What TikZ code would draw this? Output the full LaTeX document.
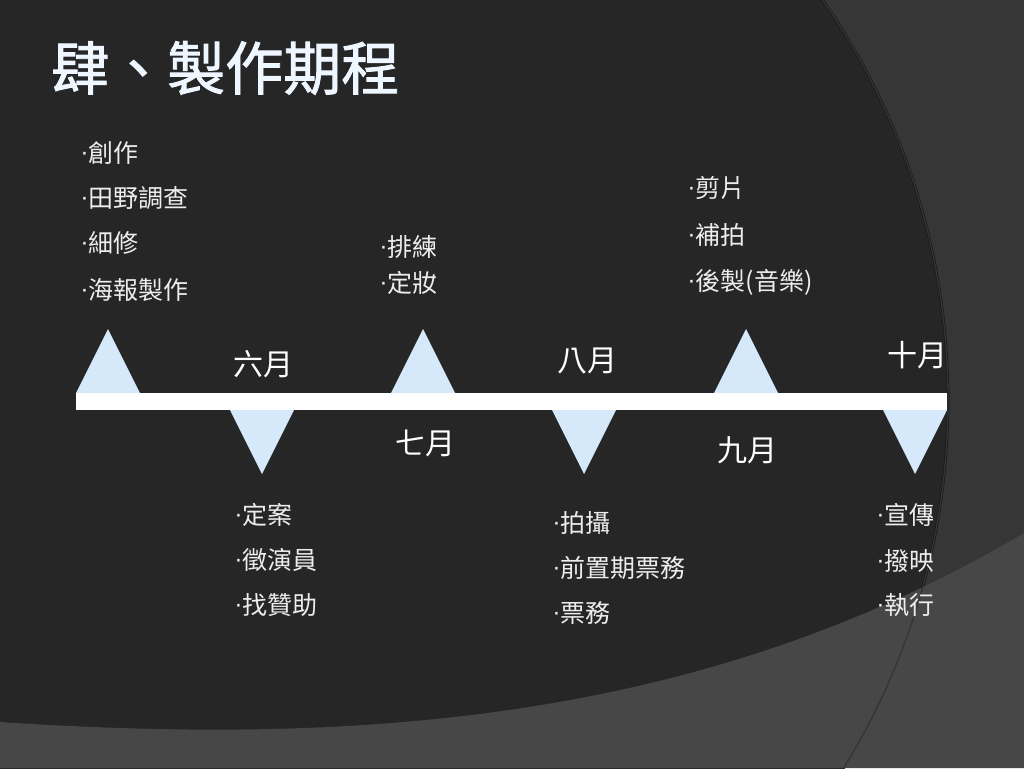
\documentclass[tikz,border=0pt]{standalone}
\usepackage{fontspec}
\setmainfont{Noto Sans CJK TC}
\newfontfamily\latinfont{Liberation Sans}
\newfontfamily\titlefont[FakeBold=1.6]{Noto Sans CJK TC}
\newcommand{\dotmark}{\raisebox{0.08em}{\latinfont ·}}
\usetikzlibrary{positioning}
\definecolor{slidebg}{HTML}{262626}
\definecolor{slidegrey}{HTML}{363636}
\definecolor{bandgrey}{HTML}{474747}
\definecolor{triblue}{HTML}{D6E9FB}
\definecolor{titlefg}{HTML}{EEF6FF}
\tikzset{
  tri/.style={fill=triblue},
  item/.style={anchor=west, inner sep=0pt, text=white!93!black,
    font=\fontsize{18.75}{22}\selectfont},
  month/.style={inner sep=0pt, text=white, font=\fontsize{22.5}{26}\selectfont},
  title/.style={anchor=west, inner sep=0pt, font=\titlefont\fontsize{43.5}{48}\selectfont},
}
\begin{document}
\begin{tikzpicture}[x=0.75pt,y=-0.75pt]
\useasboundingbox (0,0) rectangle (1024,768);
\begin{scope}
\clip (0,0) rectangle (1024,768);
\fill[slidegrey] (0,0) rectangle (1024,768);
\fill[slidebg] (248,400) circle [x radius=700, y radius=700];
\draw[black!40!slidebg,line width=2] (248,400) circle [x radius=700, y radius=700];
\fill[bandgrey] (0,722) .. controls (350,745) and (700,725) .. (1024,533)
  -- (1024,768) -- (0,768) -- cycle;
\draw[black!25!bandgrey,line width=1] (248,400) circle [x radius=700, y radius=700];
\end{scope}
% title
\node[title,text=titlefg] (ttl) at (51,68) {肆、製作期程};
% time line
\fill[white] (76,393) rectangle (947,410);
\foreach \x in {108,423,746}
  \fill[tri] (\x-32,393) -- (\x,329) -- (\x+32,393) -- cycle;
\foreach \x in {262,584,915}
  \fill[tri] (\x-32,410) -- (\x,474) -- (\x+32,410) -- cycle;
% months
\node[month] (jun) at (263,364) {六月};
\node[month] (jul) at (425,443) {七月};
\node[month] (aug) at (587,361) {八月};
\node[month] (sep) at (747,450) {九月};
\node[month] (oct) at (917,355) {十月};
% june
\node[item] (chuangzuo) at (80,153) {\dotmark 創作};
\node[item] (tianye) at (80,198) {\dotmark 田野調查};
\node[item] (xixiu) at (80,243) {\dotmark 細修};
\node[item] (haibao) at (80,290) {\dotmark 海報製作};
\node[item] (dingan) at (234,515) {\dotmark 定案};
\node[item] (zhengyan) at (234,560) {\dotmark 徵演員};
\node[item] (zhaozan) at (234,605) {\dotmark 找贊助};
% july
\node[item] (pailian) at (379,247) {\dotmark 排練};
\node[item] (dingzhuang) at (379,283) {\dotmark 定妝};
% august
\node[item] (paishe) at (552,523) {\dotmark 拍攝};
\node[item] (qianzhi) at (552,568) {\dotmark 前置期票務};
\node[item] (piaowu) at (552,613) {\dotmark 票務};
% september
\node[item] (jianpian) at (687,188) {\dotmark 剪片};
\node[item] (bupai) at (687,235) {\dotmark 補拍};
\node[item] (houzhi) at (687,282) {\dotmark 後製(音樂)};
% october
\node[item] (xuanchuan) at (876,515) {\dotmark 宣傳};
\node[item] (boying) at (876,561) {\dotmark 撥映};
\node[item] (zhixing) at (876,605) {\dotmark 執行};
\end{tikzpicture}
\end{document}
